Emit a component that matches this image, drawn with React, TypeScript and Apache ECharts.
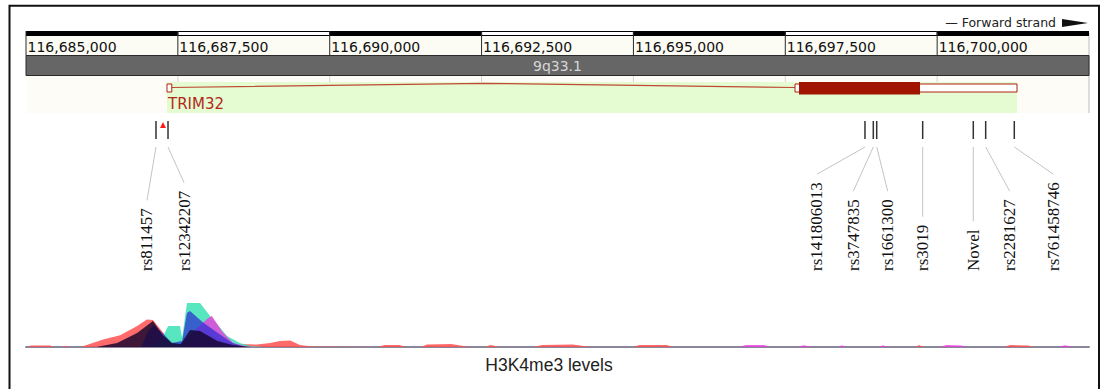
import React, { useEffect, useRef } from 'react';
import * as echarts from 'echarts';

// ---- Genomic window ----
const X_MIN = 116685000;
const X_MAX = 116702500;

// ---- Ruler ----
const rulerTicks = [116685000, 116687500, 116690000, 116692500, 116695000, 116697500, 116700000];
const rulerLabels = ['116,685,000', '116,687,500', '116,690,000', '116,692,500', '116,695,000', '116,697,500', '116,700,000'];
const bandName = '9q33.1';
const strandLabel = '— Forward strand';

// ---- Gene ----
const geneName = 'TRIM32';
const geneStart = 116687321;
const geneEnd = 116701315;
const exonStarts = [116687321, 116697660];
const exonEnds = [116687400, 116701315];
const codingStarts = [116697726];
const codingEnds = [116699718];

// ---- Variants ----
const snpIds = ['rs811457', 'rs12342207', 'rs141806013', 'rs3747835', 'rs1661300', 'rs3019', 'Novel', 'rs2281627', 'rs761458746'];
const snpPos = [116687140, 116687338, 116698812, 116698949, 116699005, 116699762, 116700595, 116700799, 116701270];
const flaggedPos = [116687255];

// ---- H3K4me3 tracks [position, level] ----
const redTrack = [
  [116685030, 0], [116685080, 1.5], [116685400, 1.5], [116685450, 0], [116685600, 0], [116685650, 1.2], [116685700, 0],
  [116685900, 0], [116686270, 7.6], [116686550, 11.7], [116686830, 21], [116686990, 27.5], [116687090, 27],
  [116687210, 18], [116687340, 8], [116687500, 3], [116687650, 6], [116687900, 14], [116688100, 10],
  [116688300, 5], [116688500, 3], [116688800, 2.5], [116689020, 4], [116689180, 6], [116689350, 6.5],
  [116689510, 2], [116689700, 0.5], [116690800, 0], [116690900, 2], [116691150, 2], [116691250, 0],
  [116691500, 0], [116691600, 2.5], [116692000, 3], [116692300, 0], [116692550, 0], [116692650, 2],
  [116692800, 0], [116693350, 0], [116693500, 2], [116694000, 2.5], [116694300, 0], [116695000, 0],
  [116695100, 2], [116695550, 2], [116695650, 0], [116699650, 0], [116699700, 2], [116699780, 0],
  [116701100, 0], [116701200, 2], [116701500, 1.5], [116701600, 0]
];
const cyanTrack = [
  [116687100, 0], [116687250, 10], [116687340, 21], [116687535, 21], [116687570, 9], [116687650, 44],
  [116687865, 44], [116688030, 31], [116688310, 11], [116688520, 4], [116688700, 1], [116688900, 0]
];
const magentaTrack = [
  [116687500, 0], [116687800, 18], [116688000, 29], [116688060, 31], [116688240, 14.7], [116688410, 4],
  [116688600, 1], [116688800, 0], [116696750, 0], [116696850, 2], [116697150, 2], [116697250, 0],
  [116697700, 0], [116697800, 1.8], [116697950, 0], [116698380, 0], [116698430, 1.8], [116698500, 0],
  [116699050, 0], [116699110, 1.8], [116699180, 0], [116700050, 0], [116700150, 2], [116700400, 1.5],
  [116700480, 0], [116702000, 0], [116702100, 1.8], [116702250, 0]
];
const blueTrack = [
  [116686900, 0], [116687000, 15], [116687100, 22], [116687250, 14], [116687400, 4], [116687570, 6],
  [116687650, 34], [116687700, 36], [116687910, 24.7], [116688140, 14.7], [116688400, 4], [116688600, 0]
];
const navyTrack = [
  [116686160, 0], [116686500, 4], [116686830, 14], [116687090, 26], [116687250, 12], [116687400, 4],
  [116687550, 3], [116687700, 17], [116687865, 16], [116688150, 6], [116688400, 2], [116688700, 0]
];
const trackTitle = 'H3K4me3 levels';

const SERIF = '"Liberation Serif", "Times New Roman", serif';
const SANS = '"DejaVu Sans", sans-serif';
const SNP_FONT_SIZE = 17;

let measureCtx: CanvasRenderingContext2D | null = null;
function measure(text: string, font: string): number {
  if (!measureCtx) measureCtx = document.createElement('canvas').getContext('2d');
  if (!measureCtx) return text.length * 8;
  measureCtx.font = font;
  return measureCtx.measureText(text).width;
}

export default function App() {
  const ref = useRef<HTMLDivElement>(null);
  useEffect(() => {
    if (!ref.current) return;
    const chart = echarts.init(ref.current, null, { renderer: 'svg' });
    const px = (api: any, g: number) => api.coord([g, 0])[0];

    // layout (pixel rows)
    const RULER_Y = 31;
    const LABEL_ROW_Y = 36;
    const BAND_Y = 55.5;
    const GENE_TOP = 76;
    const GENE_BOTTOM = 113;
    const SNP_TOP = 121;
    const SNP_BOTTOM = 139;
    const LEADER_TOP = 147;
    const SNP_TEXT_BASE = 271;
    const labelOffsets = [-9, 16, -48, -20, 11, 0, 0, 24, 39];

    const option: any = {
      animation: false,
      grid: [
        { left: 26, right: 13, top: 0, bottom: 0 },
        { left: 26, right: 13, top: 297, bottom: 42 }
      ],
      xAxis: [
        { type: 'value', gridIndex: 0, min: X_MIN, max: X_MAX, show: false },
        {
          type: 'value', gridIndex: 1, min: X_MIN, max: X_MAX,
          axisLine: { show: true, lineStyle: { color: '#8b879a', width: 2 } },
          axisTick: { show: false }, axisLabel: { show: false }, splitLine: { show: false }
        }
      ],
      yAxis: [
        { type: 'value', gridIndex: 0, min: 0, max: 1, show: false },
        { type: 'value', gridIndex: 1, min: 0, max: 50, show: false }
      ],
      graphic: [
        { type: 'rect', shape: { x: 9.5, y: 5.8, width: 1089.5, height: 390 }, style: { fill: 'none', stroke: '#111', lineWidth: 2 }, z: 100 },
        { type: 'text', x: 1056, y: 22.5, style: { text: strandLabel, fill: '#222', fontSize: 12.5, fontFamily: SANS, align: 'right', verticalAlign: 'middle' } },
        { type: 'polygon', shape: { points: [[1062, 19], [1062, 27], [1088, 23]] }, style: { fill: '#111' } },
        { type: 'text', x: 549, y: 364.5, style: { text: trackTitle, fill: '#222', fontSize: 17.5, fontFamily: '"Liberation Sans", Arial, sans-serif', align: 'center', verticalAlign: 'middle' } }
      ],
      series: [
        {
          type: 'custom', name: 'tracks', xAxisIndex: 0, yAxisIndex: 0, z: 1, silent: true,
          data: [[X_MIN, 0]],
          renderItem: (params: any, api: any) => {
            const x0 = px(api, X_MIN);
            const x1 = px(api, X_MAX);
            return {
              type: 'group',
              children: [
                { type: 'rect', shape: { x: x0, y: LABEL_ROW_Y, width: x1 - x0, height: BAND_Y - LABEL_ROW_Y }, style: { fill: '#fcfbf4' } },
                { type: 'rect', shape: { x: x0, y: GENE_TOP, width: x1 - x0, height: GENE_BOTTOM - GENE_TOP }, style: { fill: '#fdfcf6' } },
                { type: 'line', shape: { x1: x1, y1: RULER_Y + 2, x2: x1, y2: GENE_BOTTOM }, style: { stroke: '#bdbdbd', lineWidth: 1 } },
                { type: 'rect', shape: { x: x0, y: BAND_Y, width: x1 - x0, height: 20 }, style: { fill: '#666666', stroke: '#2a2a2a', lineWidth: 1 } },
                { type: 'text', x: (x0 + x1) / 2, y: BAND_Y + 10, style: { text: bandName, fill: '#d6d6d6', fontSize: 14, fontFamily: SANS, align: 'center', verticalAlign: 'middle' } }
              ]
            };
          }
        },
        {
          type: 'custom', name: 'ruler', xAxisIndex: 0, yAxisIndex: 0, z: 2, silent: true,
          data: rulerTicks.map((t) => [t, 0]),
          renderItem: (params: any, api: any) => {
            const i = params.dataIndex;
            const s = api.value(0);
            const e = i + 1 < rulerTicks.length ? rulerTicks[i + 1] : X_MAX;
            const xs = px(api, s);
            const xe = px(api, e);
            const dark = i % 2 === 0;
            const children: any[] = [
              dark
                ? { type: 'rect', shape: { x: xs, y: RULER_Y, width: xe - xs, height: 5 }, style: { fill: '#000' } }
                : { type: 'rect', shape: { x: xs, y: RULER_Y + 0.5, width: xe - xs, height: 4 }, style: { fill: '#fff', stroke: '#000', lineWidth: 1 } },
              { type: 'line', shape: { x1: xs, y1: RULER_Y, x2: xs, y2: BAND_Y }, style: { stroke: '#2a2a2a', lineWidth: 1 } },
              { type: 'text', x: xs + 1.5, y: 47, style: { text: rulerLabels[i], fill: '#111', fontSize: 14, fontFamily: SANS, align: 'left', verticalAlign: 'middle' } }
            ];
            if (i > 0) {
              children.push({ type: 'line', shape: { x1: xs, y1: GENE_TOP, x2: xs, y2: GENE_BOTTOM }, style: { stroke: '#d4d4d4', lineWidth: 1 } });
            }
            return { type: 'group', children };
          }
        },
        {
          type: 'custom', name: 'gene', xAxisIndex: 0, yAxisIndex: 0, z: 3, silent: true,
          data: [[geneStart, 0]],
          renderItem: (params: any, api: any) => {
            const gs = px(api, geneStart);
            const ge = px(api, geneEnd);
            const children: any[] = [
              { type: 'rect', shape: { x: gs, y: 82, width: ge - gs, height: GENE_BOTTOM - 82 }, style: { fill: '#e5fbd1' } }
            ];
            for (let k = 0; k + 1 < exonStarts.length; k++) {
              const a = px(api, exonEnds[k]);
              const b = px(api, exonStarts[k + 1]);
              children.push({ type: 'polyline', shape: { points: [[a, 87.5], [(a + b) / 2, 83.3], [b, 87.5]] }, style: { stroke: '#bf4a36', lineWidth: 1.2, fill: 'none' } });
            }
            for (let k = 0; k < exonStarts.length; k++) {
              const a = px(api, exonStarts[k]);
              const b = px(api, exonEnds[k]);
              children.push({ type: 'rect', shape: { x: a, y: 84, width: Math.max(b - a, 3), height: 8 }, style: { fill: '#fff', stroke: '#b0200e', lineWidth: 1 } });
            }
            for (let k = 0; k < codingStarts.length; k++) {
              const a = px(api, codingStarts[k]);
              const b = px(api, codingEnds[k]);
              children.push({ type: 'rect', shape: { x: a, y: 82, width: b - a, height: 12.5 }, style: { fill: '#a01400' } });
            }
            children.push({ type: 'text', x: gs + 1, y: 104, style: { text: geneName, fill: '#b3281a', fontSize: 15, fontFamily: SANS, align: 'left', verticalAlign: 'middle' } });
            return { type: 'group', children };
          }
        },
        {
          type: 'custom', name: 'variants', xAxisIndex: 0, yAxisIndex: 0, z: 3, silent: true,
          data: snpPos.map((p) => [p, 0]),
          renderItem: (params: any, api: any) => {
            const i = params.dataIndex;
            const x = px(api, api.value(0));
            const lx = x + labelOffsets[i];
            const w = measure(snpIds[i], `${SNP_FONT_SIZE}px ${SERIF}`);
            const lineEnd = SNP_TEXT_BASE - w - 8;
            return {
              type: 'group',
              children: [
                { type: 'line', shape: { x1: x, y1: SNP_TOP, x2: x, y2: SNP_BOTTOM }, style: { stroke: '#333', lineWidth: 1.5 } },
                { type: 'line', shape: { x1: x, y1: LEADER_TOP, x2: lx, y2: lineEnd }, style: { stroke: '#c4c4c4', lineWidth: 1 } },
                { type: 'text', x: lx, y: SNP_TEXT_BASE, rotation: Math.PI / 2, style: { text: snpIds[i], fill: '#111', fontSize: SNP_FONT_SIZE, fontFamily: SERIF, align: 'left', verticalAlign: 'middle' } }
              ]
            };
          }
        },
        {
          type: 'custom', name: 'flag', xAxisIndex: 0, yAxisIndex: 0, z: 4, silent: true,
          data: flaggedPos.map((p) => [p, 0]),
          renderItem: (params: any, api: any) => {
            const x = px(api, api.value(0));
            return { type: 'polygon', shape: { points: [[x - 3, 128], [x + 3, 128], [x, 122]] }, style: { fill: '#ff1a1a' } };
          }
        },
        ...[
          { name: 'red', data: redTrack, color: 'rgba(255,80,80,0.85)' },
          { name: 'cyan', data: cyanTrack, color: 'rgba(64,226,182,0.88)' },
          { name: 'magenta', data: magentaTrack, color: 'rgba(236,60,222,0.8)' },
          { name: 'blue', data: blueTrack, color: 'rgba(45,45,210,0.72)' },
          { name: 'navy', data: navyTrack, color: 'rgba(20,5,45,0.82)' }
        ].map((s) => ({
          type: 'line', name: s.name, xAxisIndex: 1, yAxisIndex: 1, data: s.data, silent: true,
          showSymbol: false, symbol: 'none', smooth: false,
          lineStyle: { width: 0 }, areaStyle: { color: s.color, opacity: 1 }, z: 2
        }))
      ]
    };
    chart.setOption(option);
    return () => chart.dispose();
  }, []);
  return <div ref={ref} style={{ position: 'absolute', left: 0, top: 0, width: 1102, height: 389 }} />;
}
